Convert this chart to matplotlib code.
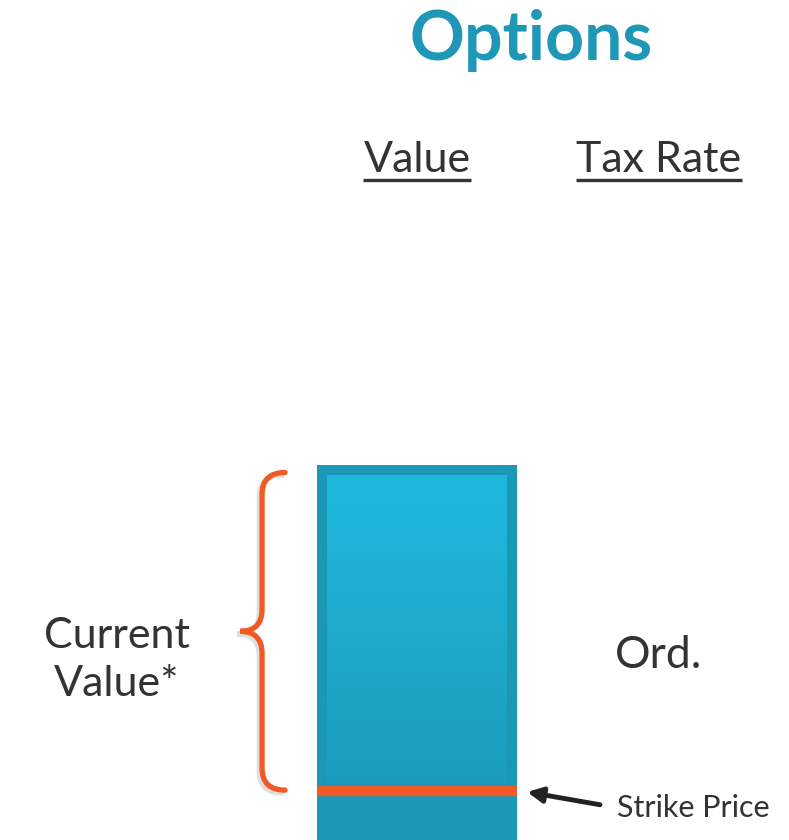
import matplotlib
matplotlib.use('Agg')
import matplotlib.pyplot as plt
import matplotlib.patheffects as pe
import numpy as np
from matplotlib.path import Path
from matplotlib.patches import PathPatch
from matplotlib.colors import LinearSegmentedColormap

plt.rcParams['font.family'] = ['Lato', 'DejaVu Sans']

# data
title = 'Options'
columns = ['Value', 'Tax Rate']
current_value = 100      # height of the bar
strike_price = 13        # where the orange line sits
tax_rate_labels = ['Ord.']
brace_label = 'Current\nValue*'
strike_label = 'Strike Price'

teal = '#1a98b6'
orange = '#f15a24'
dark = '#333333'

fig = plt.figure(figsize=(7.89, 8.40), dpi=100)
ax = fig.add_axes([0, 0, 1, 1])

x = np.arange(len(columns))
w = 0.826
ax.bar(x[0], current_value, width=w, color=teal, zorder=1)

# lighter inner panel with gradient
px_x = 1 / 242.0
px_y = 1 / 3.75
grad = np.linspace(0, 1, 256).reshape(-1, 1)
cmap = LinearSegmentedColormap.from_list('bar', ['#1c9cbc', '#1fb9de'])
ax.imshow(grad, cmap=cmap, aspect='auto', origin='lower',
          extent=[x[0] - w / 2 + 10 * px_x, x[0] + w / 2 - 10 * px_x,
                  strike_price + 2.2, current_value - 10 * px_y], zorder=2)

# strike price line
ax.hlines(strike_price, x[0] - w / 2, x[0] + w / 2, color=orange, lw=7.5, zorder=3)

# brace next to the bar
xe = x[0] - w / 2 - 32 * px_x
xv = xe - 23 * px_x
xt = xv - 22 * px_x
ytop = current_value - 2
ybot = strike_price + 0.3
ymid = (ytop + ybot) / 2
r = 22 * px_y
verts = [(xe, ytop), (xv, ytop), (xv, ytop - r), (xv, ymid + r),
         (xv, ymid), (xt, ymid), (xv, ymid), (xv, ymid - r),
         (xv, ybot + r), (xv, ybot), (xe, ybot)]
codes = [Path.MOVETO, Path.CURVE3, Path.CURVE3, Path.LINETO,
         Path.CURVE3, Path.CURVE3, Path.CURVE3, Path.CURVE3,
         Path.LINETO, Path.CURVE3, Path.CURVE3]
brace = PathPatch(Path(verts, codes), fill=False, edgecolor=orange, lw=3.8,
                  capstyle='round', zorder=4,
                  path_effects=[pe.SimpleLineShadow(offset=(-2, -2), shadow_color='gray', alpha=0.25),
                                pe.Normal()])
ax.add_patch(brace)

# texts
ax.text(0.47, 213.3, title, ha='center', va='center', fontsize=49,
        fontweight='bold', color='#1f97b6')
headers = []
for i, c in enumerate(columns):
    headers.append(ax.text(x[i], 181.3, c, ha='center', va='center',
                           fontsize=31, color=dark))
ax.text(x[1], 49.3, tax_rate_labels[0], ha='center', va='center',
        fontsize=32, color=dark)
ax.text(-1.24, 48.0, brace_label, ha='center', va='center', fontsize=31,
        color=dark, linespacing=1.33)
ax.text(0.826, 8.6, strike_label, ha='left', va='center', fontsize=22,
        color=dark)
ax.annotate('', xy=(0.455, 12.8), xytext=(0.756, 9.4),
            arrowprops=dict(arrowstyle='-|>,head_length=0.9,head_width=0.45',
                            color='#222222', lw=3.5, shrinkA=0, shrinkB=0))

ax.set_xlim(-1.723, 1.537)
ax.set_ylim(0, 224)
ax.axis('off')

# underline the column headers
fig.canvas.draw()
inv = ax.transData.inverted()
for t in headers:
    bb = t.get_window_extent()
    (x0, y0), (x1, y1) = inv.transform([(bb.x0, bb.y0), (bb.x1, bb.y1)])
    ax.hlines(y0 - 0.2, x0, x1, color=dark, lw=2.4)

fig.savefig('out.png', dpi=100)
